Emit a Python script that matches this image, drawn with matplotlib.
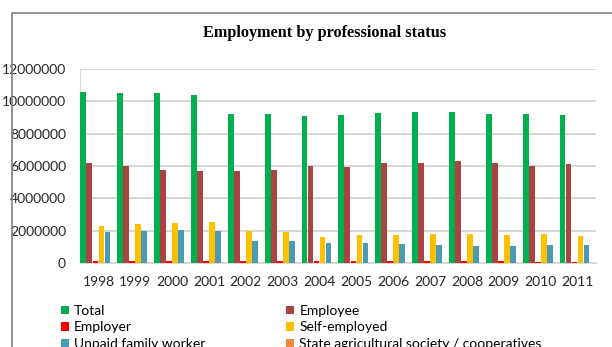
import numpy as np
import matplotlib.pyplot as plt
from matplotlib.patches import Rectangle

years = ['1998', '1999', '2000', '2001', '2002', '2003', '2004',
         '2005', '2006', '2007', '2008', '2009', '2010', '2011']

total = [10580000, 10530000, 10490000, 10410000, 9220000, 9220000, 9110000,
         9130000, 9300000, 9340000, 9340000, 9210000, 9210000, 9130000]
employee = [6210000, 5990000, 5760000, 5680000, 5680000, 5760000, 5990000,
            5910000, 6160000, 6160000, 6280000, 6200000, 6030000, 6120000]
employer = [110000, 100000, 100000, 110000, 110000, 110000, 100000,
            100000, 100000, 100000, 100000, 100000, 80000, 80000]
self_employed = [2260000, 2410000, 2470000, 2510000, 2000000, 1930000, 1610000,
                 1740000, 1740000, 1780000, 1780000, 1740000, 1820000, 1650000]
unpaid = [1890000, 2000000, 2060000, 2000000, 1360000, 1360000, 1220000,
          1220000, 1160000, 1120000, 1030000, 1070000, 1120000, 1120000]
state_agri = [30000, 30000, 30000, 30000, 30000, 30000, 30000,
              30000, 30000, 30000, 30000, 30000, 30000, 30000]

series = [
    ('Total', total, '#00b050'),
    ('Employee', employee, '#a94442'),
    ('Employer', employer, '#ff0000'),
    ('Self-employed', self_employed, '#ffc000'),
    ('Unpaid family worker', unpaid, '#4a9ab4'),
    ('State agricultural society / cooperatives', state_agri, '#f0883c'),
]

plt.rcParams['font.family'] = ['Lato', 'DejaVu Sans']

fig = plt.figure(figsize=(6.12, 3.47), dpi=100)
ax = fig.add_axes([80 / 612, 1 - 263 / 347, (596 - 80) / 612, (263 - 69) / 347])

# chart frame
fig.patches.append(Rectangle((12 / 612, -0.1), 1.0, 1 - 13 / 347 + 0.1,
                             transform=fig.transFigure, fill=False,
                             edgecolor='#808080', linewidth=1.2, clip_on=False))

x = np.arange(len(years))
w = 0.163
bars = []
for i, (name, vals, col) in enumerate(series):
    b = ax.bar(x - 0.49 + w * (i + 0.5), vals, width=w * 0.96, color=col,
               label=name, zorder=3)
    bars.append(b)

ax.set_xlim(-0.5, len(years) - 0.5)
ax.set_ylim(0, 12000000)
ax.set_yticks(np.arange(0, 12000001, 2000000))
ax.set_yticklabels([str(v) for v in range(0, 12000001, 2000000)], fontsize=10, color='#262626')
ax.set_xticks(x)
ax.set_xticklabels(years, fontsize=10, color='#262626')
ax.tick_params(length=0, pad=9)
ax.tick_params(axis='y', pad=10)
ax.grid(axis='y', color='#d0d0d0', linewidth=1.2, zorder=0)
for side in ['top', 'right']:
    ax.spines[side].set_visible(False)
ax.spines['left'].set_color('#d9d9d9')
ax.spines['bottom'].set_color('#d9d9d9')

fig.text(325 / 612, 1 - 33 / 347, 'Employment by professional status',
         ha='center', va='center', fontsize=11.7, fontweight='bold',
         family='Liberation Serif')

# legend is filled row by row in the reference
order = [0, 2, 4, 1, 3, 5]
ax.legend([bars[i] for i in order], [series[i][0] for i in order],
          loc='upper left', bbox_to_anchor=(54 / 612, 1 - 298 / 347),
          bbox_transform=fig.transFigure, ncol=2, frameon=False,
          fontsize=10, handlelength=0.6, handleheight=0.6, handletextpad=0.35,
          columnspacing=5.8, labelspacing=0.32, borderpad=0)

fig.savefig('out.png', dpi=100)
